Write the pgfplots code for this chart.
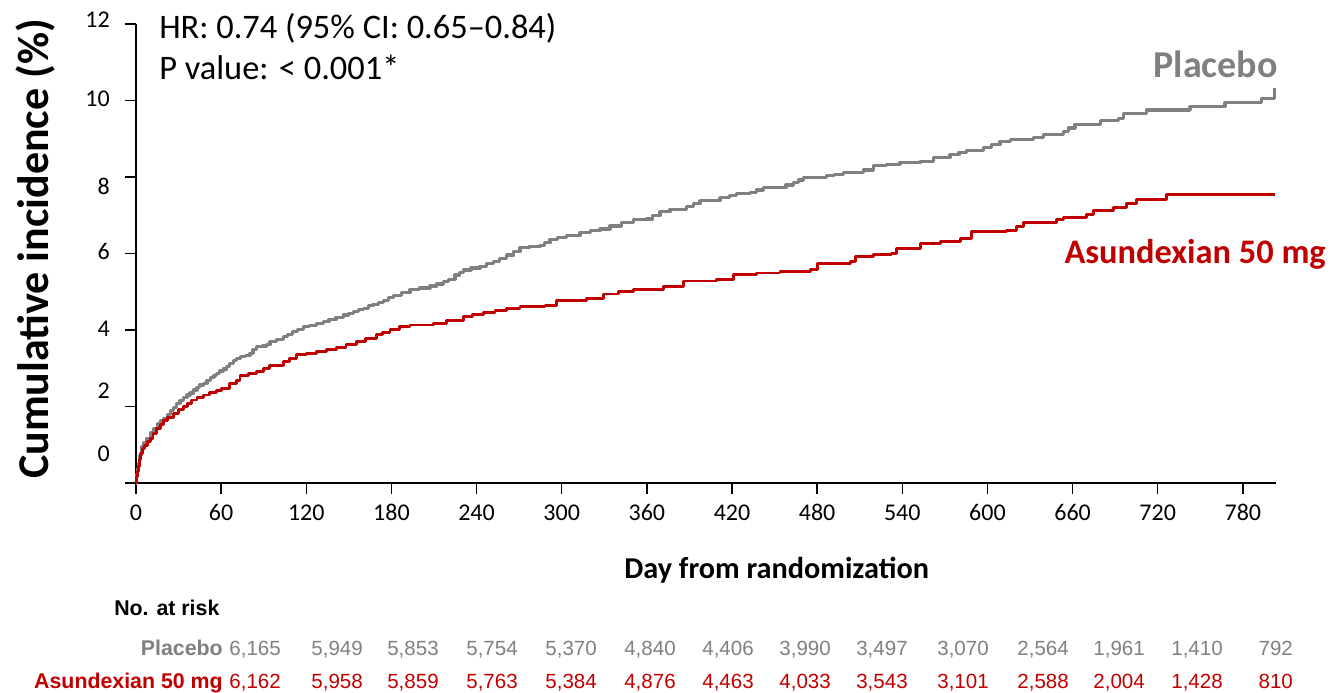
\documentclass[border=0pt]{standalone}
\usepackage{pgfplots}
\pgfplotsset{compat=1.18}
\usepackage{fontspec}
\setmainfont{Carlito}
\newfontfamily\arial{Liberation Sans}
\definecolor{pbo}{HTML}{808080}
\definecolor{asx}{HTML}{C00000}
\newcommand{\fsz}[2]{\fontsize{#1}{#2}\selectfont}
% risk-table helpers: column right edge (days) and row baseline
\newcommand{\riskP}[2]{\node[anchor=base east,inner sep=0,text=pbo,font=\arial\fsz{15.4pt}{18pt}] at (axis cs:#1,-4.523) {#2};}
\newcommand{\riskA}[2]{\node[anchor=base east,inner sep=0,text=asx,font=\arial\fsz{15.4pt}{18pt}] at (axis cs:#1,-5.386) {#2};}

\begin{document}
\begin{tikzpicture}
\begin{axis}[
  x=1.0643pt, y=28.6875pt,
  xmin=0, xmax=803, ymin=0, ymax=12,
  axis x line*=bottom, axis y line*=left,
  axis line style={line width=1pt,-},
  tick align=outside,
  major tick length=8pt,
  tick style={black,line width=1pt},
  xtick={0,60,...,780},
  ytick={0,2,...,12},
  yticklabels={},
  typeset ticklabels with strut,
  xticklabel style={font=\fsz{18pt}{21pt}, yshift=-2pt},
  /pgf/number format/assume math mode=true,
  clip=false,
]

% Placebo
\addplot[const plot mark left, color=pbo, line width=2.4pt, line join=round] coordinates {
(0,0) (0.5,0.22) (1,0.38) (1.6,0.51) (2.5,0.72) (4,0.95) (5.5,1.06) (7.5,1.17)
(10,1.32) (12.2,1.43) (15,1.55) (17,1.62) (19.3,1.69) (22,1.8) (24.5,1.9)
(26.5,1.98) (28.7,2.08) (31,2.15) (33.5,2.23) (36,2.3) (38,2.35) (40.5,2.43)
(43,2.5) (45,2.56) (47.4,2.61) (50,2.68) (52.5,2.76) (55,2.82) (56.9,2.87)
(59,2.93) (61.5,2.98) (63.9,3.04) (66,3.12) (68.5,3.2) (71,3.26) (73.5,3.3)
(77,3.34) (80.3,3.39) (82.5,3.48) (85,3.56) (89,3.58) (92,3.61) (94.4,3.69)
(99,3.75) (103.8,3.82) (107,3.88) (110.5,3.95) (114,4.02) (117.9,4.09)
(122,4.12) (127.3,4.17) (132,4.23) (136,4.28) (141,4.33) (146.1,4.39)
(150,4.44) (153,4.48) (157,4.53) (160.2,4.57) (164,4.63) (167,4.67) (171,4.72)
(174.3,4.77) (178,4.84) (181.3,4.91) (187,4.98) (193.1,5.05) (200,5.1)
(207.2,5.15) (212,5.2) (216.6,5.26) (220,5.33) (224.8,5.44) (228,5.51)
(230.7,5.57) (236,5.62) (242.4,5.67) (247,5.73) (251.8,5.79) (256,5.87)
(261.2,5.96) (266,6.06) (270.6,6.15) (277,6.18) (284.7,6.2) (288,6.28)
(291.8,6.37) (297,6.42) (303.5,6.48) (312.9,6.55) (320,6.6) (327,6.64)
(334,6.72) (342,6.8) (350.5,6.88) (359.9,6.9) (364,7.0) (369.3,7.09)
(376.3,7.16) (388.1,7.22) (393,7.3) (397.5,7.38) (411.6,7.46) (418,7.52)
(423.3,7.57) (432.7,7.59) (437,7.66) (442.1,7.72) (453.8,7.72) (458,7.79)
(463.2,7.85) (467,7.92) (470.3,7.98) (486.8,8.03) (492,8.07) (498.5,8.11)
(512.6,8.18) (519.6,8.29) (529,8.33) (538.4,8.37) (552.5,8.4) (561.9,8.51)
(573.6,8.58) (580,8.64) (585.3,8.69) (597.1,8.78) (603,8.85) (608.9,8.92)
(616,8.98) (632.4,9.04) (639.4,9.12) (653.5,9.18) (657,9.28) (661.7,9.38)
(679.4,9.47) (692.3,9.53) (695.8,9.67) (712.3,9.75) (742.8,9.84) (767.4,9.94)
(793.3,10.06) (802.5,10.32)
};

% Asundexian 50 mg
\addplot[const plot mark left, color=asx, line width=2.2pt, line join=round] coordinates {
(0,0) (0.5,0.18) (1,0.3) (1.6,0.43) (2.4,0.62) (3.3,0.78) (4.8,0.9) (6.3,0.99)
(8,1.08) (9.9,1.17) (12,1.3) (14.6,1.43) (17,1.53) (19.3,1.63) (22.5,1.72)
(26.3,1.82) (30,1.92) (33.3,2.01) (36,2.09) (39.2,2.17) (43,2.24) (47.4,2.3)
(52,2.37) (56.9,2.43) (60,2.46) (63.9,2.48) (66.2,2.61) (71,2.69) (73.3,2.81)
(79,2.86) (85,2.91) (90,3.0) (94.4,3.08) (103.8,3.17) (108,3.26) (113.2,3.35)
(120,3.39) (127.3,3.43) (134,3.49) (141.4,3.54) (148,3.61) (155.5,3.69)
(162,3.78) (169.6,3.87) (174,3.94) (179,4.02) (186,4.08) (193.1,4.13)
(209.5,4.17) (219,4.26) (230.7,4.35) (237,4.4) (244.8,4.45) (253,4.51)
(261.2,4.57) (270.6,4.61) (288.2,4.64) (296.5,4.78) (317.6,4.83) (329.3,4.94)
(340,5.0) (350.5,5.05) (371.6,5.13) (385.7,5.28) (409.2,5.33) (420.9,5.46)
(437,5.49) (453.8,5.52) (475,5.57) (480,5.74) (503.2,5.79) (506.7,5.93)
(519.6,5.97) (532.6,6.0) (536.1,6.13) (552.5,6.25) (566.6,6.31) (580.7,6.4)
(588.9,6.57) (613.6,6.61) (620.6,6.7) (625.3,6.81) (648.8,6.88) (653.5,6.95)
(670,7.02) (674.7,7.12) (688.8,7.21) (698.2,7.31) (705.3,7.4) (724,7.42)
(726.4,7.53) (802.7,7.53)
};

% y tick labels
\begin{scope}[every node/.style={anchor=base east,inner sep=0,font=\fsz{18pt}{21pt}}]
\node at (axis cs:-18.3,11.90) {12};
\node at (axis cs:-18.3,9.83) {10};
\node at (axis cs:-18.3,7.53) {8};
\node at (axis cs:-18.3,5.83) {6};
\node at (axis cs:-18.3,3.82) {4};
\node at (axis cs:-18.3,2.22) {2};
\node at (axis cs:-18.3,0.55) {0};
\end{scope}

% axis titles
\node[rotate=90,anchor=base,inner sep=0,font=\bfseries\fsz{33pt}{38pt}] at (axis cs:-62.0,6.12) {Cumulative incidence (\%)};
\node[anchor=base west,inner sep=0,font=\bfseries\fsz{22.7pt}{27pt}] at (axis cs:343.9,-2.51) {Day from randomization};

% statistics
\node[anchor=base west,inner sep=0,font=\fsz{25.8pt}{30pt}] at (axis cs:16.2,11.61) {HR: 0.74 (95\% CI: 0.65--0.84)};
\node[anchor=base west,inner sep=0,font=\fsz{25.8pt}{30pt}] at (axis cs:16.2,10.54) {P value: < 0.001*};

% curve labels
\node[anchor=base east,inner sep=0,text=pbo,font=\bfseries\fsz{28.5pt}{34pt}] at (axis cs:804.8,10.61) {Placebo};
\node[anchor=base east,inner sep=0,text=asx,font=\bfseries\fsz{25.8pt}{30pt}] at (axis cs:838.6,5.73) {Asundexian 50 mg};

% number at risk
\node[anchor=base west,inner sep=0,font=\arial\bfseries\fsz{16pt}{19pt}] at (axis cs:-15.5,-3.477) {No. at risk};
\node[anchor=base east,inner sep=0,text=pbo,font=\arial\bfseries\fsz{16pt}{19pt}] at (axis cs:61.3,-4.523) {Placebo};
\node[anchor=base east,inner sep=0,text=asx,font=\arial\bfseries\fsz{16pt}{19pt}] at (axis cs:61.3,-5.386) {Asundexian 50 mg};

\riskP{102.2}{6,165} \riskP{160.0}{5,949} \riskP{213.5}{5,853} \riskP{269.2}{5,754}
\riskP{324.9}{5,370} \riskP{380.5}{4,840} \riskP{435.5}{4,406} \riskP{489.8}{3,990}
\riskP{544.0}{3,497} \riskP{601.1}{3,070} \riskP{657.5}{2,564} \riskP{711.1}{1,961}
\riskP{766.0}{1,410} \riskP{815.4}{792}

\riskA{102.2}{6,162} \riskA{160.0}{5,958} \riskA{213.5}{5,859} \riskA{269.2}{5,763}
\riskA{324.9}{5,384} \riskA{380.5}{4,876} \riskA{435.5}{4,463} \riskA{489.8}{4,033}
\riskA{544.0}{3,543} \riskA{601.1}{3,101} \riskA{657.5}{2,588} \riskA{711.1}{2,004}
\riskA{766.0}{1,428} \riskA{815.4}{810}

\coordinate (BL) at (axis cs:-95.84,-5.490);
\coordinate (TR) at (axis cs:841.4,12.627);
\end{axis}
\pgfresetboundingbox
\path[use as bounding box] (BL) rectangle (TR);
\end{tikzpicture}
\end{document}
